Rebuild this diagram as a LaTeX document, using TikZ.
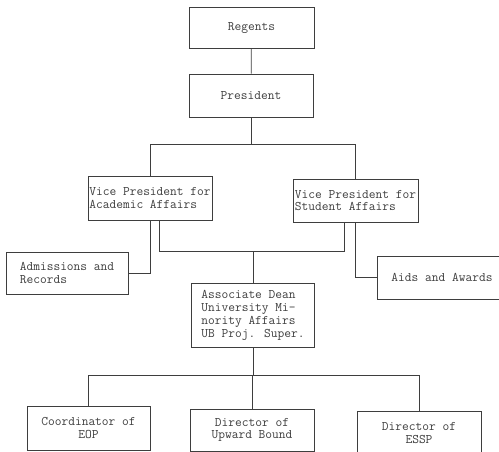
\documentclass[tikz,border=0pt]{standalone}
\usepackage{xcolor}
\definecolor{ink}{RGB}{62,62,62}

\begin{document}
\begin{tikzpicture}[x=1pt, y=-1pt,
    every node/.style={font=\ttfamily\fontsize{13.1}{12.8}\selectfont, text=ink},
    box/.style={draw=ink, line width=0.7pt, inner sep=0pt, align=left},
    link/.style={draw=ink, line width=0.7pt}]
  % Page size
  \useasboundingbox (0,0) rectangle (499,452);

  % Top of the chart
  \node[box, minimum width=125, minimum height=41] (regents) at (251.5,27.5) {Regents};
  \node[box, minimum width=124, minimum height=43] (president) at (251,95.5) {President};

  % Vice presidents
  \node[box, minimum width=124, minimum height=44] (vpaa) at (150,198) {Vice President for\\Academic Affairs};
  \node[box, minimum width=125, minimum height=43] (vpsa) at (355.5,200.5) {Vice President for\\Student Affairs};

  % Side offices
  \node[box, minimum width=122, minimum height=42] (admissions) at (67,273) {Admissions and\\Records};
  \node[box, minimum width=130, minimum height=43] (aids) at (442,277.5) {Aids and Awards};

  % Associate dean
  \node[box, minimum width=123, minimum height=64] (assocdean) at (253,315.5)
    {Associate Dean\\University Mi-\\nority Affairs\\UB Proj. Super.};

  % Programme heads
  \node[box, align=center, minimum width=123, minimum height=44] (coord) at (88.5,428) {Coordinator of\\EOP};
  \node[box, align=center, minimum width=124, minimum height=42] (upward) at (252,430) {Director of\\Upward Bound};
  \node[box, align=center, minimum width=124, minimum height=44] (essp) at (419,433) {Director of\\ESSP};

  % Lines
  \draw[link] (regents) -- (president);
  \draw[link] (president.south) -- ++(0,27) coordinate (topbus);
  \draw[link] (vpaa.north) |- (topbus) -| (vpsa.north);
  \draw[link] (vpaa.south) |- (admissions.east);
  \draw[link] (vpsa.south) |- (aids.west);
  \draw[link] ([xshift=9]vpaa.south) -- ++(0,31) coordinate (midbus) -| ([xshift=-11]vpsa.south);
  \draw[link] (assocdean.north) -- (assocdean.north |- midbus);
  \draw[link] (assocdean.south) -- ++(0,27) coordinate (lowbus);
  \draw[link] (coord.north) |- (lowbus) -| (essp.north);
  \draw[link] (upward.north) -- (upward.north |- lowbus);
\end{tikzpicture}
\end{document}
